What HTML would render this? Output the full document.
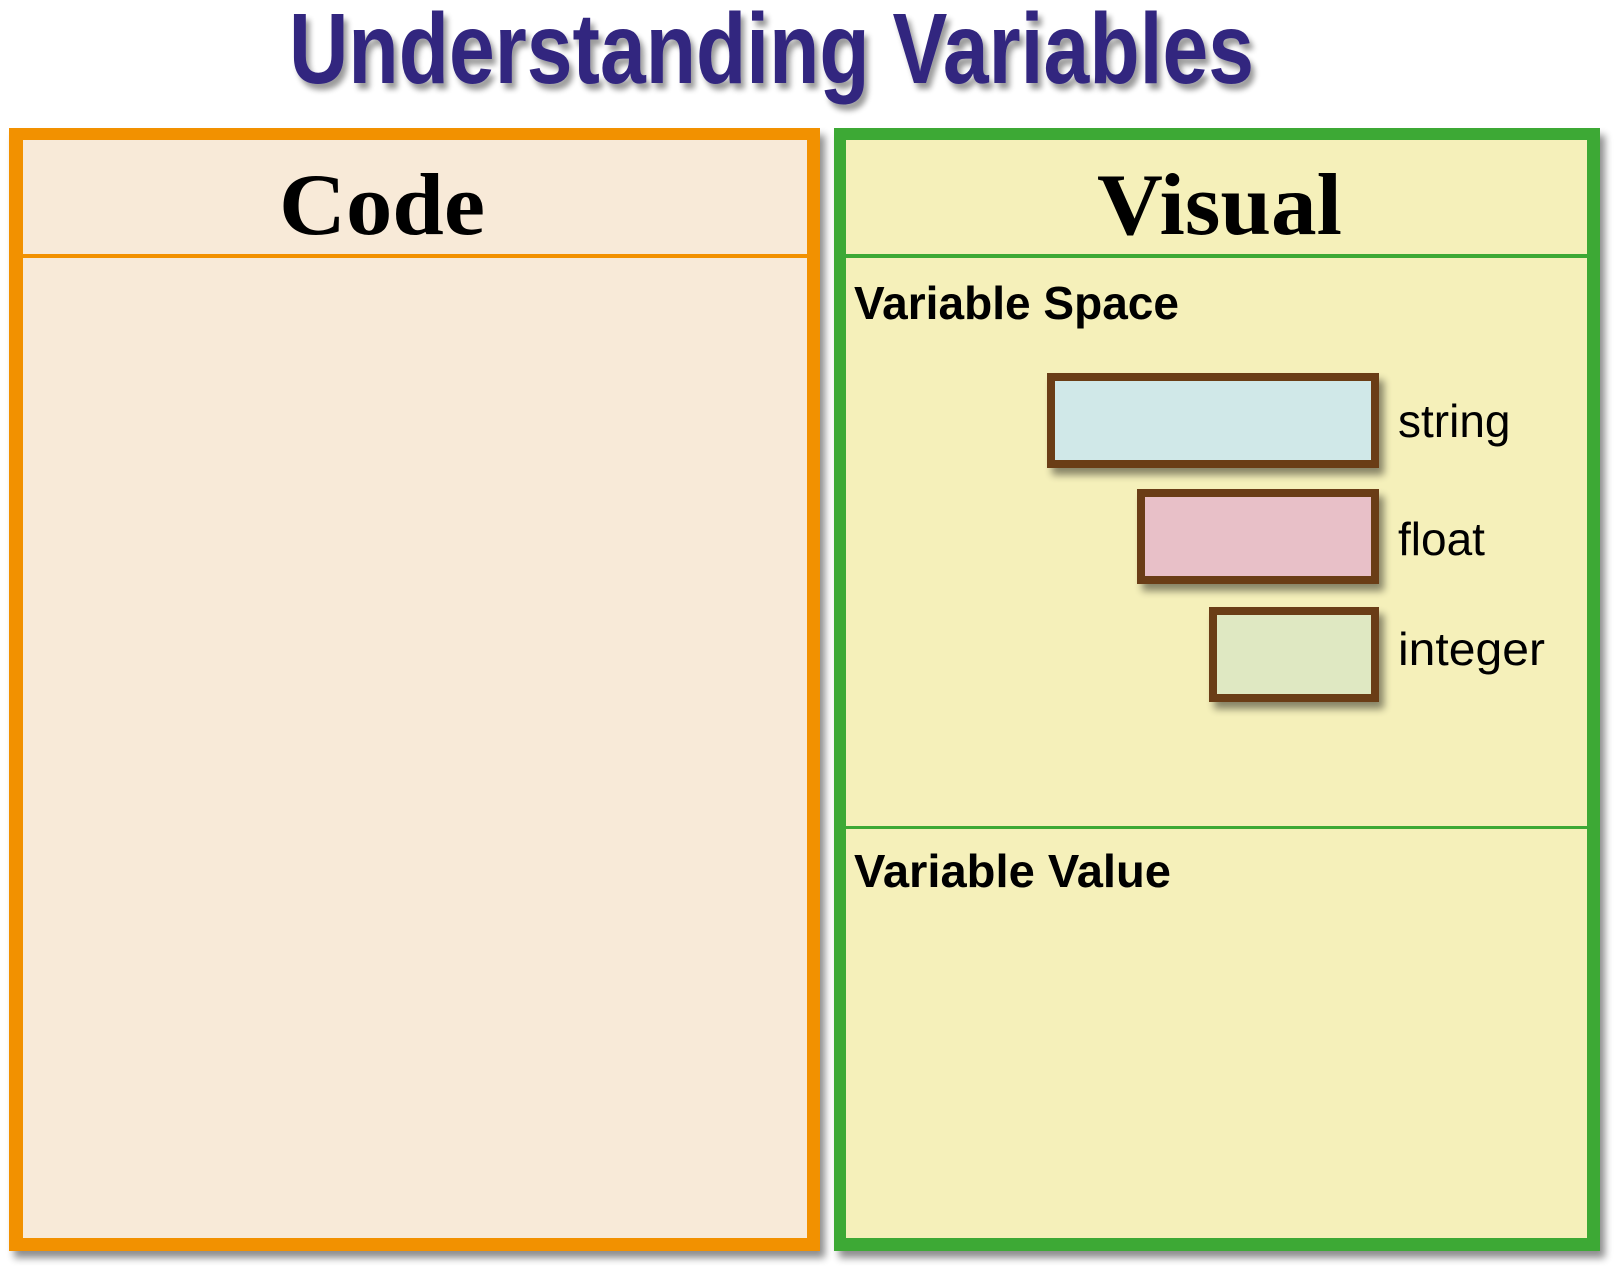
<!DOCTYPE html>
<html><head><meta charset="utf-8"><style>html,body{margin:0;padding:0;background:#fff;}svg{display:block}</style></head>
<body>
<svg width="1617" height="1266" viewBox="0 0 1617 1266" xmlns="http://www.w3.org/2000/svg">
<defs>
<filter id="sh" x="-5%" y="-5%" width="112%" height="112%"><feGaussianBlur in="SourceAlpha" stdDeviation="4"/><feOffset dx="5" dy="7"/><feComponentTransfer><feFuncA type="linear" slope="0.45"/></feComponentTransfer><feMerge><feMergeNode/><feMergeNode in="SourceGraphic"/></feMerge></filter>
<filter id="ts" x="-5%" y="-20%" width="112%" height="150%"><feGaussianBlur in="SourceAlpha" stdDeviation="3"/><feOffset dx="4" dy="6"/><feComponentTransfer><feFuncA type="linear" slope="0.4"/></feComponentTransfer><feMerge><feMergeNode/><feMergeNode in="SourceGraphic"/></feMerge></filter>
</defs>
<text x="289" y="83" textLength="965" lengthAdjust="spacingAndGlyphs" font-family="Liberation Sans, sans-serif" font-weight="bold" font-size="100" fill="#33287F" filter="url(#ts)">Understanding Variables</text>

<rect x="9" y="128" width="811" height="1123" fill="#F29100" filter="url(#sh)"/>
<rect x="23" y="140" width="784" height="1098" fill="#F8EAD8"/>
<rect x="23" y="254" width="784" height="4" fill="#F29100"/>
<text x="279" y="234" textLength="206" lengthAdjust="spacingAndGlyphs" font-family="Liberation Serif, serif" font-weight="bold" font-size="88" fill="#000">Code</text>

<rect x="834" y="128" width="766" height="1123" fill="#3DA935" filter="url(#sh)"/>
<rect x="846" y="140" width="741" height="1098" fill="#F5F0BA"/>
<rect x="846" y="254" width="741" height="4" fill="#3DA935"/>
<rect x="846" y="826" width="741" height="3" fill="#3DA935"/>
<text x="1097" y="234" textLength="245" lengthAdjust="spacingAndGlyphs" font-family="Liberation Serif, serif" font-weight="bold" font-size="88" fill="#000">Visual</text>

<text x="854" y="319" textLength="325" lengthAdjust="spacingAndGlyphs" font-family="Liberation Sans, sans-serif" font-weight="bold" font-size="46" fill="#000">Variable Space</text>
<text x="854" y="887" textLength="317" lengthAdjust="spacingAndGlyphs" font-family="Liberation Sans, sans-serif" font-weight="bold" font-size="46" fill="#000">Variable Value</text>

<g filter="url(#sh)">
<rect x="1051" y="377" width="324" height="87" fill="#D0E8E8" stroke="#6B3E17" stroke-width="8"/>
<rect x="1141" y="493" width="234" height="87" fill="#E8C0C8" stroke="#6B3E17" stroke-width="8"/>
<rect x="1213" y="611" width="162" height="87" fill="#DFE8C2" stroke="#6B3E17" stroke-width="8"/>
</g>
<g font-family="Liberation Sans, sans-serif" font-size="46" fill="#000">
<text x="1398" y="437">string</text>
<text x="1398" y="555">float</text>
<text x="1398" y="665" textLength="147" lengthAdjust="spacingAndGlyphs">integer</text>
</g>
</svg>
</body></html>
